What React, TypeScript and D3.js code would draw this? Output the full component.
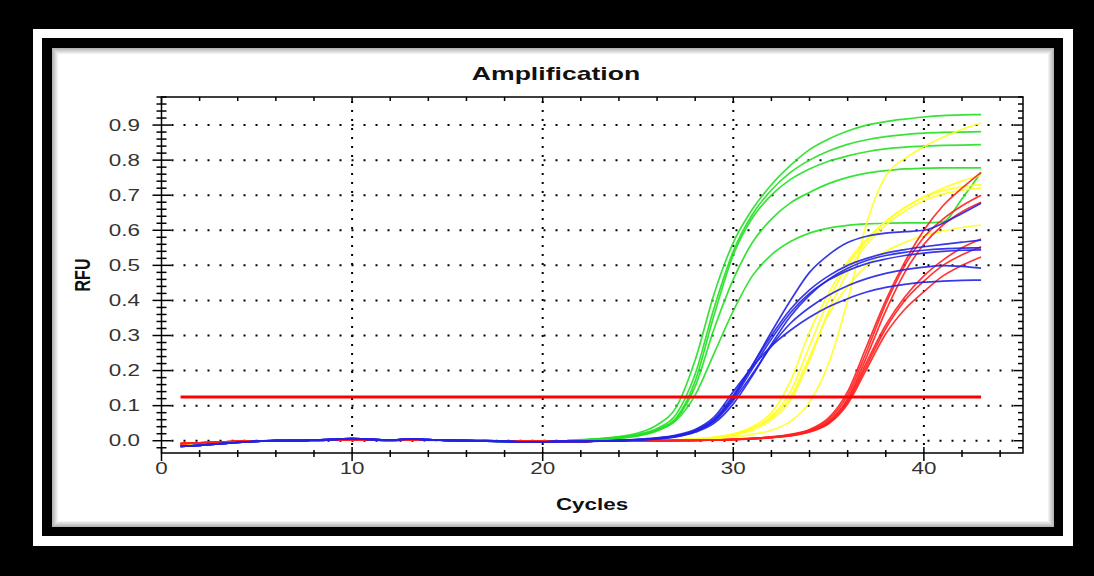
import React from 'react';
import * as d3 from 'd3';

const W = 1094;
const H = 576;

// baseline readings, cycles 1-21
const greenBase = [-0.012, -0.009, -0.006, -0.003, -0.001, 0.0, 0.0, 0.001, 0.002, 0.004, 0.003, 0.001, 0.003, 0.002, 0.001, 0.0, -0.001, -0.002, -0.002, -0.002, -0.001];
const blueBase = [-0.016, -0.013, -0.009, -0.005, -0.002, 0.0, 0.0, 0.002, 0.004, 0.006, 0.004, 0.002, 0.005, 0.003, 0.001, 0.0, -0.001, -0.002, -0.003, -0.003, -0.002];
const yellowBase = [-0.010, -0.008, -0.005, -0.003, -0.001, 0.0, 0.0, 0.001, 0.002, 0.003, 0.002, 0.001, 0.002, 0.001, 0.0, 0.0, -0.001, -0.001, -0.002, -0.002, -0.002];
const redBase = [-0.008, -0.006, -0.004, -0.002, -0.001, 0.0, 0.001, 0.001, 0.002, 0.003, 0.002, 0.001, 0.002, 0.002, 0.001, 0.0, 0.0, -0.001, -0.001, -0.002, -0.002];

// wells, cycles 22-43
const greenRuns = [
  [0.003, 0.006, 0.012, 0.022, 0.045, 0.095, 0.23, 0.42, 0.565, 0.66, 0.73, 0.785, 0.83, 0.86, 0.883, 0.9, 0.91, 0.917, 0.923, 0.927, 0.929, 0.93],
  [0.002, 0.005, 0.01, 0.018, 0.035, 0.075, 0.19, 0.38, 0.54, 0.645, 0.715, 0.765, 0.8, 0.826, 0.845, 0.858, 0.867, 0.873, 0.877, 0.879, 0.88, 0.881],
  [0.002, 0.004, 0.008, 0.016, 0.032, 0.065, 0.17, 0.36, 0.53, 0.635, 0.7, 0.745, 0.775, 0.797, 0.812, 0.824, 0.832, 0.837, 0.84, 0.842, 0.843, 0.844],
  [0.002, 0.004, 0.008, 0.015, 0.03, 0.062, 0.155, 0.32, 0.46, 0.565, 0.632, 0.678, 0.708, 0.733, 0.751, 0.763, 0.77, 0.775, 0.777, 0.778, 0.778, 0.778],
  [0.002, 0.004, 0.007, 0.014, 0.028, 0.058, 0.13, 0.25, 0.37, 0.47, 0.53, 0.568, 0.592, 0.606, 0.614, 0.618, 0.62, 0.621, 0.621, 0.624, 0.69, 0.765],
];
const blueRuns = [
  [-0.002, -0.001, 0.0, 0.003, 0.007, 0.014, 0.028, 0.058, 0.125, 0.215, 0.31, 0.4, 0.48, 0.53, 0.565, 0.583, 0.592, 0.596, 0.6, 0.62, 0.648, 0.677],
  [-0.002, -0.001, 0.0, 0.003, 0.007, 0.014, 0.03, 0.062, 0.13, 0.215, 0.3, 0.375, 0.43, 0.47, 0.5, 0.52, 0.535, 0.545, 0.553, 0.56, 0.566, 0.572],
  [-0.002, -0.001, 0.0, 0.003, 0.006, 0.013, 0.027, 0.058, 0.12, 0.205, 0.29, 0.365, 0.42, 0.458, 0.485, 0.505, 0.518, 0.528, 0.535, 0.54, 0.543, 0.544],
  [-0.002, -0.001, 0.0, 0.002, 0.006, 0.012, 0.026, 0.055, 0.115, 0.19, 0.27, 0.335, 0.38, 0.415, 0.442, 0.462, 0.477, 0.488, 0.495, 0.499, 0.497, 0.492],
  [-0.002, -0.001, 0.001, 0.004, 0.008, 0.016, 0.032, 0.068, 0.14, 0.21, 0.27, 0.315, 0.352, 0.382, 0.405, 0.424, 0.437, 0.446, 0.452, 0.455, 0.457, 0.458],
  [-0.002, -0.001, 0.0, 0.002, 0.005, 0.011, 0.024, 0.05, 0.105, 0.185, 0.275, 0.355, 0.415, 0.46, 0.492, 0.514, 0.528, 0.537, 0.543, 0.547, 0.549, 0.55],
];
const yellowRuns = [
  [-0.002, -0.001, -0.001, 0.0, 0.0, 0.0, 0.002, 0.005, 0.01, 0.018, 0.03, 0.055, 0.11, 0.22, 0.4, 0.62, 0.755, 0.805, 0.838, 0.865, 0.888, 0.906],
  [-0.002, -0.001, 0.0, 0.0, 0.001, 0.002, 0.005, 0.01, 0.02, 0.04, 0.08, 0.17, 0.31, 0.42, 0.51, 0.575, 0.625, 0.665, 0.695, 0.72, 0.74, 0.757],
  [-0.002, -0.001, 0.0, 0.0, 0.001, 0.002, 0.004, 0.009, 0.018, 0.035, 0.07, 0.14, 0.27, 0.4, 0.5, 0.57, 0.625, 0.665, 0.695, 0.713, 0.724, 0.73],
  [-0.002, -0.001, 0.0, 0.0, 0.001, 0.002, 0.004, 0.008, 0.016, 0.03, 0.06, 0.115, 0.23, 0.37, 0.48, 0.56, 0.615, 0.655, 0.685, 0.703, 0.714, 0.72],
  [-0.002, -0.001, 0.0, 0.0, 0.001, 0.002, 0.005, 0.01, 0.018, 0.035, 0.065, 0.125, 0.24, 0.36, 0.44, 0.5, 0.54, 0.565, 0.585, 0.598, 0.608, 0.615],
];
const redRuns = [
  [-0.002, -0.001, 0.0, 0.0, 0.0, 0.001, 0.001, 0.002, 0.004, 0.007, 0.011, 0.018, 0.032, 0.065, 0.14, 0.27, 0.4, 0.51, 0.6, 0.67, 0.72, 0.765],
  [-0.002, -0.001, 0.0, 0.0, 0.0, 0.001, 0.001, 0.002, 0.004, 0.007, 0.01, 0.017, 0.03, 0.06, 0.13, 0.255, 0.39, 0.5, 0.58, 0.632, 0.67, 0.7],
  [-0.002, -0.001, 0.0, 0.0, 0.0, 0.001, 0.001, 0.002, 0.004, 0.006, 0.01, 0.016, 0.028, 0.055, 0.12, 0.24, 0.37, 0.48, 0.56, 0.615, 0.653, 0.68],
  [-0.002, -0.001, 0.0, 0.0, 0.0, 0.0, 0.001, 0.002, 0.003, 0.006, 0.009, 0.015, 0.027, 0.052, 0.115, 0.225, 0.33, 0.41, 0.47, 0.515, 0.55, 0.575],
  [-0.002, -0.001, 0.0, 0.0, 0.0, 0.0, 0.001, 0.002, 0.003, 0.006, 0.009, 0.015, 0.026, 0.05, 0.11, 0.215, 0.32, 0.4, 0.455, 0.5, 0.53, 0.553],
  [-0.002, -0.001, 0.0, 0.0, 0.0, 0.0, 0.001, 0.002, 0.003, 0.005, 0.009, 0.014, 0.025, 0.048, 0.105, 0.205, 0.305, 0.375, 0.425, 0.47, 0.5, 0.524],
];

const threshold = 0.125;
const thresholdCycles = [1, 43];
const xTickLabels = [0, 10, 20, 30, 40];
const yTickLabels = [0.0, 0.1, 0.2, 0.3, 0.4, 0.5, 0.6, 0.7, 0.8, 0.9];

const GREEN = '#22e022';
const BLUE = '#2222e6';
const YELLOW = '#ffff22';
const RED = '#ff2020';

const SX = 1.4; // the picture is stretched sideways, text too
const FONT = 'Arial, "Liberation Sans", sans-serif';

export default function App() {
  const left = 161.5, right = 1023, top = 97, bottom = 453;
  const x = d3.scaleLinear().domain([0, 45.2]).range([left, right]);
  const y = d3.scaleLinear().domain([-0.035, 0.98]).range([bottom, top]);

  const line = d3.line<number>()
    .x((d, i) => x(i + 1))
    .y(d => y(d))
    .curve(d3.curveMonotoneX);

  const groups = [
    { color: GREEN, base: greenBase, runs: greenRuns },
    { color: YELLOW, base: yellowBase, runs: yellowRuns },
    { color: RED, base: redBase, runs: redRuns },
    { color: BLUE, base: blueBase, runs: blueRuns },
  ];

  const xMinor = d3.range(0, 45, 2);
  const yMinor = d3.range(-0.02, 0.99, 0.02);

  return (
    <svg width={W} height={H} style={{ position: 'absolute', left: 0, top: 0 }} fontFamily={FONT}>
      <rect x={0} y={0} width={W} height={H} fill="#000" />
      <rect x={33} y={29} width={1040} height={517} fill="#fff" />
      <rect x={42} y={38} width={1021} height={498} fill="#000" />
      <rect x={52} y={48} width={1002} height={479} fill="#fff" />
      {[0, 1, 2, 3, 4, 5].map(i => (
        <rect key={i} x={52 + i + 0.5} y={48 + i + 0.5} width={1001 - 2 * i} height={478 - 2 * i}
          fill="none" stroke="#777" strokeOpacity={0.55 - i * 0.09} />
      ))}

      {/* grid */}
      {yTickLabels.map(v => (
        <line key={'gy' + v} x1={left + 10} x2={right} y1={y(v)} y2={y(v)}
          stroke="#000" strokeWidth={2} strokeDasharray="2,10" />
      ))}
      {xTickLabels.slice(1).map(c => (
        <line key={'gx' + c} x1={x(c)} x2={x(c)} y1={top + 4} y2={bottom}
          stroke="#000" strokeWidth={2} strokeDasharray="2,7" />
      ))}

      {/* amplification curves */}
      {groups.map(g => g.runs.map((r, k) => (
        <path key={g.color + k} d={line(g.base.concat(r)) || ''} fill="none"
          stroke={g.color} strokeWidth={1.7} strokeOpacity={0.9} />
      )))}

      {/* threshold */}
      <line x1={x(thresholdCycles[0])} x2={x(thresholdCycles[1])} y1={y(threshold)} y2={y(threshold)}
        stroke="#ff0000" strokeWidth={3} />

      {/* frame and ticks */}
      <rect x={left} y={top} width={right - left} height={bottom - top} fill="none" stroke="#000" strokeWidth={1.5} />
      {xMinor.map(c => {
        const major = c % 10 === 0;
        return (
          <g key={'xt' + c}>
            <line x1={x(c)} x2={x(c)} y1={bottom - (major ? 6 : 3)} y2={bottom + (major ? 8 : 4)} stroke="#000" strokeWidth={1.5} />
            <line x1={x(c)} x2={x(c)} y1={top} y2={top + (major ? 6 : 4)} stroke="#000" strokeWidth={1.5} />
          </g>
        );
      })}
      {yMinor.map(v => {
        const major = Math.abs(Math.round(v * 10) - v * 10) < 1e-6 && v > -0.01;
        return (
          <g key={'yt' + v.toFixed(2)}>
            <line x1={left - (major ? 9 : 5)} x2={left + (major ? 10 : 5)} y1={y(v)} y2={y(v)} stroke="#000" strokeWidth={1.5} />
            <line x1={right - (major ? 9 : 5)} x2={right} y1={y(v)} y2={y(v)} stroke="#000" strokeWidth={1.5} />
          </g>
        );
      })}

      {/* tick labels */}
      {xTickLabels.map(c => (
        <text key={'xl' + c} transform={`translate(${x(c)},${474}) scale(${SX},1)`} textAnchor="middle"
          fontSize={16} fill="#333">{c}</text>
      ))}
      {yTickLabels.map(v => (
        <text key={'yl' + v} transform={`translate(${140},${y(v)}) scale(${SX},1)`} textAnchor="end"
          dominantBaseline="central" fontSize={16} fill="#333">{v.toFixed(1)}</text>
      ))}

      {/* titles */}
      <text transform={`translate(556,80) scale(${SX},1)`} textAnchor="middle" fontSize={19} fontWeight="bold" fill="#111">Amplification</text>
      <text transform={`translate(592,510) scale(${SX},1)`} textAnchor="middle" fontSize={16} fontWeight="bold" fill="#111">Cycles</text>
      <text transform={`translate(90,275) scale(${SX},1) rotate(-90)`} textAnchor="middle" fontSize={16} fontWeight="bold" fill="#111">RFU</text>
    </svg>
  );
}
